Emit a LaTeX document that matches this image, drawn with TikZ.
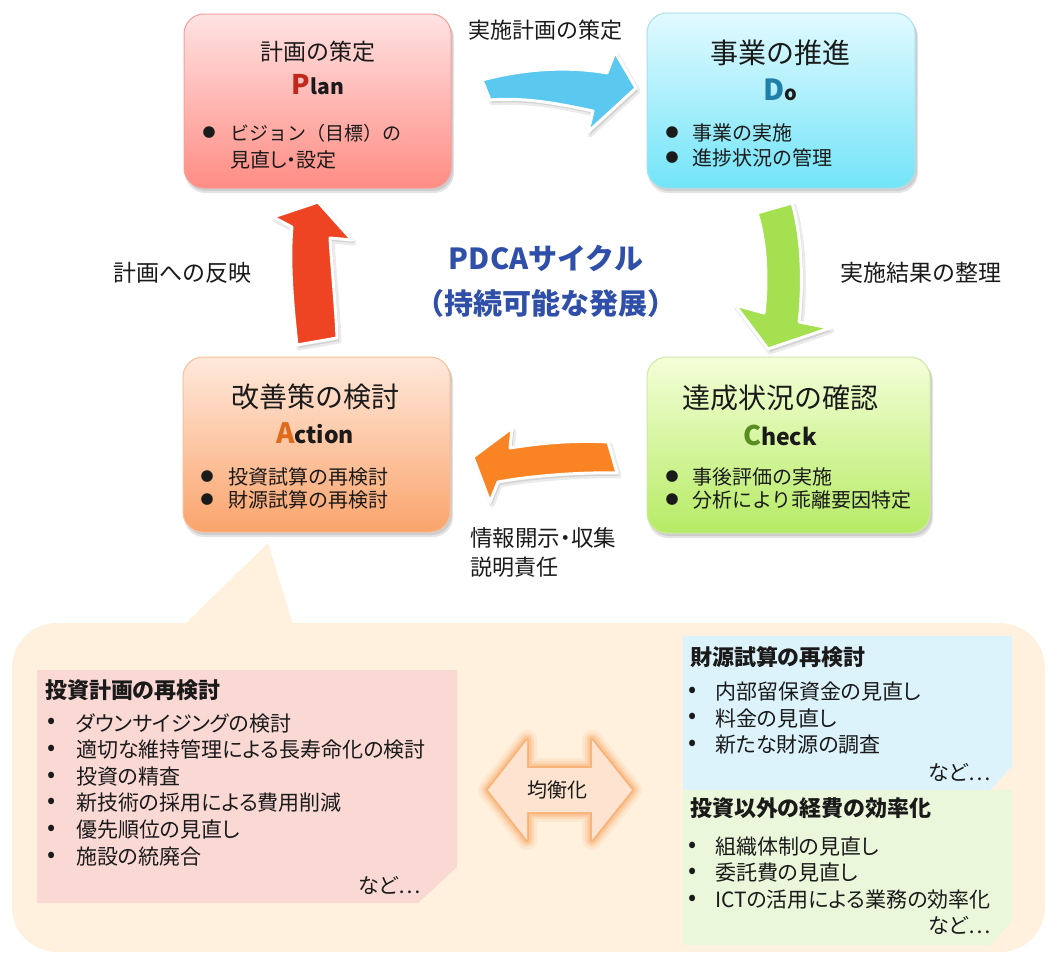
\documentclass[tikz,border=0pt]{standalone}
\usepackage{fontspec}
\setmainfont{Noto Sans CJK JP}
\newfontfamily\pfont{Noto Sans CJK JP}[RawFeature=+palt]
\newcommand\myfs[1]{\fontsize{#1}{#1}\selectfont}
\definecolor{txt}{HTML}{1A1A1A}
\definecolor{ttlblue}{HTML}{2F4FA8}
\definecolor{pcol}{HTML}{C0281C}
\definecolor{dcol}{HTML}{1F7FA8}
\definecolor{acol}{HTML}{E06A1B}
\definecolor{ccol}{HTML}{5A8E22}
\definecolor{arblue}{HTML}{5BC8EF}
\definecolor{argreen}{HTML}{A4E04F}
\definecolor{arorange}{HTML}{FA8323}
\definecolor{arred}{HTML}{EE4423}
\definecolor{ptop}{HTML}{FFE3E3}\definecolor{pbot}{HTML}{FF8C84}\definecolor{pbrd}{HTML}{F4A09A}
\definecolor{dtop}{HTML}{E2FAFF}\definecolor{dbot}{HTML}{72E4F8}\definecolor{dbrd}{HTML}{A8E0EC}
\definecolor{atop}{HTML}{FFE9DC}\definecolor{abot}{HTML}{FAA46C}\definecolor{abrd}{HTML}{F8C09A}
\definecolor{ctop}{HTML}{F4FFD9}\definecolor{cbot}{HTML}{B6EB64}\definecolor{cbrd}{HTML}{CFE8A8}
\definecolor{callout}{HTML}{FFF1DE}
\definecolor{pinkbox}{HTML}{FAD9D5}
\definecolor{bluebox}{HTML}{DDF3FC}
\definecolor{greenbox}{HTML}{EBF7DA}
\definecolor{eqfill}{HTML}{FDE3D0}
\definecolor{glow}{HTML}{F7A35C}
\begin{document}
\begin{tikzpicture}[x=1pt,y=-1pt,
  every node/.style={inner sep=0pt,outer sep=0pt,text=txt},
  boxttl/.style={font=\myfs{28}},
  boxtx/.style={anchor=west,font=\myfs{20}},
  dot/.style={font=\myfs{13}},
  lbl/.style={font=\myfs{22}},
  subttl/.style={anchor=west,font=\pfont\myfs{22}\bfseries},
  subtx/.style={anchor=west,font=\pfont\myfs{21}},
  sdot/.style={font=\myfs{24}},
  shadowA/.style={fill=black,opacity=0.10},
  arrowwhite/.style={draw=white,line width=3pt,line join=round}
]
\useasboundingbox (0,0) rectangle (1049,954);

% ---------- box shadows ----------
\foreach \a/\b/\c/\d in {184/14/451/188, 647/13/915/188, 183/357/450/532, 647/357/930/533}{
  \fill[shadowA,rounded corners=20] (\a+1,\b+4) rectangle (\c+3,\d+5);
  \fill[shadowA,rounded corners=20] (\a+2,\b+3) rectangle (\c+2,\d+3);
}
% ---------- PDCA boxes ----------
\path[draw=pbrd,line width=1pt,top color=ptop,bottom color=pbot,rounded corners=20] (184,14) rectangle (451,188);
\path[draw=dbrd,line width=1pt,top color=dtop,bottom color=dbot,rounded corners=20] (647,13) rectangle (915,188);
\path[draw=abrd,line width=1pt,top color=atop,bottom color=abot,rounded corners=20] (183,357) rectangle (450,532);
\path[draw=cbrd,line width=1pt,top color=ctop,bottom color=cbot,rounded corners=20] (647,357) rectangle (930,533);

% Plan
\node[font=\myfs{23}] (pt) at (318,52) {計画の策定};
\node (pl) at (318,85) {{\myfs{27}\bfseries\color{pcol}P}{\myfs{21}\bfseries lan}};
\node[dot] (pd1) at (209,133) {●};
\node[boxtx,font=\myfs{19}] (px1) at (230,133) {ビジョン（目標）の};
\node[boxtx,font=\pfont\myfs{20}] (px2) at (230,160) {見直し・設定};
% Do
\node[boxttl] (dt) at (780,53) {事業の推進};
\node (dl) at (780,90) {{\myfs{29}\bfseries\color{dcol}D}{\myfs{20}\bfseries o}};
\node[dot] (dd1) at (672,133) {●};
\node[dot] (dd2) at (672,158) {●};
\node[boxtx] (dx1) at (692,133) {事業の実施};
\node[boxtx] (dx2) at (692,158) {進捗状況の管理};
% Action
\node[boxttl] (at) at (315,397) {改善策の検討};
\node (al) at (315,433) {{\myfs{28}\bfseries\color{acol}A}{\myfs{23}\bfseries ction}};
\node[dot] (ad1) at (207,477) {●};
\node[dot] (ad2) at (207,500) {●};
\node[boxtx] (ax1) at (228,477) {投資試算の再検討};
\node[boxtx] (ax2) at (228,500) {財源試算の再検討};
% Check
\node[boxttl] (ct) at (780,398) {達成状況の確認};
\node (cl) at (780,435) {{\myfs{27}\bfseries\color{ccol}C}{\myfs{23}\bfseries heck}};
\node[dot] (cd1) at (672,477) {●};
\node[dot] (cd2) at (672,500) {●};
\node[boxtx] (cx1) at (692,477) {事後評価の実施};
\node[boxtx] (cx2) at (692,500) {分析により乖離要因特定};

% ---------- curved block arrows ----------
\def\bluearrow{(482,80) .. controls (530,67) and (575,67) .. (607,73) -- (615,52) -- (636,88) -- (588,132) -- (593,111) .. controls (560,104) and (525,97) .. (490,100) -- cycle}
\def\greenarrow{(757,213) -- (792,203) .. controls (803,240) and (803,290) .. (799,322) -- (830,328) -- (768,349) -- (735,305) -- (764,313) .. controls (768,280) and (766,240) .. (757,213) -- cycle}
\def\orangearrow{(608,442) .. controls (575,440) and (540,443) .. (510,448) -- (512,428) -- (473,457) -- (490,502) -- (498,482) .. controls (530,476) and (580,472) .. (617,473) -- cycle}
\def\redarrow{(297,345) .. controls (292,300) and (289,260) .. (292,227) -- (273,217) -- (318,202) -- (352,240) -- (330,238) .. controls (332,270) and (336,310) .. (337,338) -- cycle}
\foreach \p in {\bluearrow,\greenarrow,\orangearrow,\redarrow}{
  \begin{scope}[shift={(2,3)}]
    \path[fill=black,opacity=0.10,draw=black,draw opacity=0.08,line width=5pt,line join=round] \p;
  \end{scope}
}
\path[arrowwhite,fill=arblue] \bluearrow;
\path[arrowwhite,fill=argreen] \greenarrow;
\path[arrowwhite,fill=arorange] \orangearrow;
\path[arrowwhite,fill=arred] \redarrow;

% arrow labels
\node[lbl] (l1) at (545,30) {実施計画の策定};
\node[lbl,anchor=west,font=\myfs{23}] (l2) at (840,273) {実施結果の整理};
\node[lbl,anchor=west,font=\myfs{23}] (l4) at (113,273) {計画への反映};
\node[lbl,anchor=west,font=\pfont\myfs{22.5}] (l3a) at (470,538) {情報開示・収集};
\node[lbl,anchor=west] (l3b) at (470,567) {説明責任};

% center title
\node[font=\myfs{29}\bfseries,text=ttlblue] (c1) at (546,258) {PDCAサイクル};
\node[font=\myfs{29}\bfseries,text=ttlblue] (c2) at (546,303) {（持続可能な発展）};

% ---------- callout ----------
\fill[callout,rounded corners=45] (12,623) rectangle (1045,952);
\fill[callout] (185,624) -- (268,543) -- (293,624) -- cycle;

% pink box
\fill[pinkbox] (37,670) -- (457,670) -- (457,867) -- (418,903) -- (37,903) -- cycle;
\node[subttl] (it) at (45,690) {投資計画の再検討};
\foreach \y/\t [count=\i] in {723/ダウンサイジングの検討, 750/適切な維持管理による長寿命化の検討, 777/投資の精査, 803/新技術の採用による費用削減, 830/優先順位の見直し, 857/施設の統廃合}{
  \node[sdot] (ib\i) at (52,\y) {•};
  \node[subtx] (ix\i) at (76,\y) {\t};
}
\node[subtx] (ie) at (358,885) {など…};

% blue box
\fill[bluebox] (683,636) -- (1012,636) -- (1012,766) -- (990,790) -- (683,790) -- cycle;
\node[subttl] (ft) at (690,657) {財源試算の再検討};
\foreach \y/\t [count=\i] in {692/内部留保資金の見直し, 718/料金の見直し, 745/新たな財源の調査}{
  \node[sdot] (fb\i) at (693,\y) {•};
  \node[subtx] (fx\i) at (715,\y) {\t};
}
\node[subtx] (fe) at (928,772) {など…};

% green box
\fill[greenbox] (683,790) -- (1012,790) -- (1012,921) -- (990,945) -- (683,945) -- cycle;
\node[subttl] (gt) at (690,808) {投資以外の経費の効率化};
\foreach \y/\t [count=\i] in {847/組織体制の見直し, 873/委託費の見直し, 900/ICTの活用による業務の効率化}{
  \node[sdot] (gb\i) at (693,\y) {•};
  \node[subtx] (gx\i) at (715,\y) {\t};
}
\node[subtx] (ge) at (928,925) {など…};

% equalize double arrow with glow
\def\eqarrow{(488,790) -- (527,740) -- (527,768) -- (592,768) -- (592,740) -- (632,790) -- (592,840) -- (592,812) -- (527,812) -- (527,840) -- cycle}
\path[draw=glow,line width=20pt,opacity=0.12,line join=round] \eqarrow;
\path[draw=glow,line width=14pt,opacity=0.20,line join=round] \eqarrow;
\path[draw=glow,line width=9pt,opacity=0.30,line join=round] \eqarrow;
\path[draw=glow,line width=4pt,opacity=0.55,line join=round] \eqarrow;
\path[fill=eqfill] \eqarrow;
\node[font=\myfs{20}] (eq) at (557,790) {均衡化};
\end{tikzpicture}
\end{document}
